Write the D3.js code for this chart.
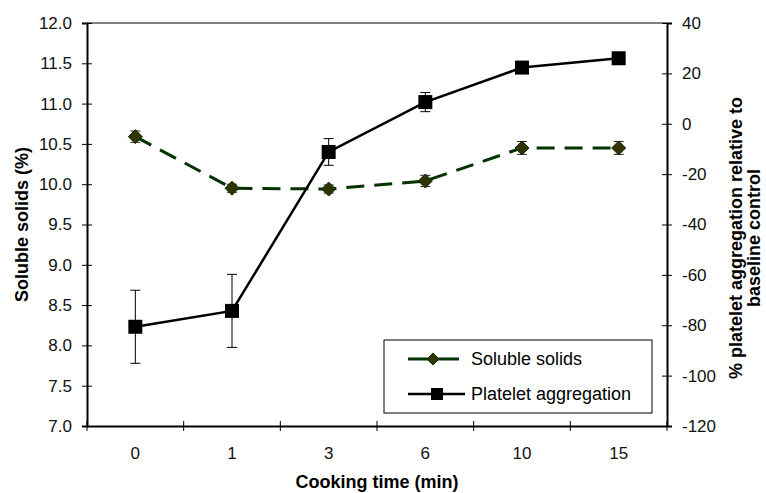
<!DOCTYPE html>
<html>
<head>
<meta charset="utf-8">
<script src="https://cdn.jsdelivr.net/npm/d3@7"></script>
<style>
  body { margin: 0; background: #fff; }
  svg { font-family: "Liberation Sans", Arial, sans-serif; }
</style>
</head>
<body>
<svg width="766" height="493"></svg>
<script>
// cooking time categories
const times = ["0", "1", "3", "6", "10", "15"];
// soluble solids (%), left axis
const solids = [10.59, 9.95, 9.94, 10.04, 10.45, 10.45];
const solidsErr = [0.07, 0.05, 0.05, 0.07, 0.08, 0.08];
// platelet aggregation (%), right axis
const platelet = [-80.6, -74.3, -11.2, 8.6, 22.3, 26.0];
const plateletErr = [14.5, 14.5, 5.3, 3.8, 0, 0];
const leftTicks = [7.0, 7.5, 8.0, 8.5, 9.0, 9.5, 10.0, 10.5, 11.0, 11.5, 12.0];
const rightTicks = [-120, -100, -80, -60, -40, -20, 0, 20, 40];

const svg = d3.select("svg");
const L = 87, R = 667, T = 23, B = 426;

const x = d3.scaleBand().domain(times).range([L, R]);
const yL = d3.scaleLinear().domain([7, 12]).range([B, T]);
const yR = d3.scaleLinear().domain([-120, 40]).range([B, T]);
const cx = d => x(d) + x.bandwidth() / 2;

// top border
svg.append("line").attr("x1", L).attr("x2", R).attr("y1", T).attr("y2", T)
  .attr("stroke", "#000").attr("stroke-width", 1);

function styleAxis(g) {
  g.select(".domain").attr("stroke-width", 2);
  g.selectAll(".tick line").attr("stroke-width", 1);
  g.selectAll(".tick text").attr("font-size", 17).attr("fill", "#111");
}

// left axis, ticks crossing the line
const gl = svg.append("g").attr("transform", `translate(${L},0)`)
  .call(d3.axisLeft(yL).tickValues(leftTicks).tickFormat(d3.format(".1f")).tickSizeOuter(0).tickSize(5).tickPadding(10));
gl.selectAll(".tick line").attr("x2", 5).attr("x1", -5);
styleAxis(gl);

const gr = svg.append("g").attr("transform", `translate(${R},0)`)
  .call(d3.axisRight(yR).tickValues(rightTicks).tickFormat(d => String(d)).tickSizeOuter(0).tickSize(5).tickPadding(10));
gr.selectAll(".tick line").attr("x1", -5).attr("x2", 5);
styleAxis(gr);

// x axis: ticks at band edges
const gx = svg.append("g").attr("transform", `translate(0,${B})`)
  .call(d3.axisBottom(x).tickSize(0).tickPadding(21).tickSizeOuter(0));
styleAxis(gx);
gx.selectAll(".tick line").remove();
const edges = times.map(t => x(t)).concat([R]);
gx.selectAll(".edge").data(edges).enter().append("line")
  .attr("x1", d => d).attr("x2", d => d).attr("y1", -5).attr("y2", 5)
  .attr("stroke", "#000");

// axis titles
svg.append("text").attr("x", (L + R) / 2).attr("y", 488).attr("text-anchor", "middle")
  .attr("font-size", 18).attr("font-weight", "bold").text("Cooking time (min)");
svg.append("text").attr("transform", `translate(28,${(T + B) / 2}) rotate(-90)`)
  .attr("text-anchor", "middle").attr("font-size", 18).attr("font-weight", "bold")
  .text("Soluble solids (%)");
const rt = svg.append("text").attr("transform", `translate(742,238) rotate(-90)`)
  .attr("text-anchor", "middle").attr("font-size", 18).attr("font-weight", "bold");
rt.append("tspan").attr("x", 0).attr("dy", 0).text("% platelet aggregation relative to");
rt.append("tspan").attr("x", 0).attr("dy", 18).text("baseline control");

// soluble solids series
const sData = times.map((t, i) => ({ t, v: solids[i], e: solidsErr[i] }));
svg.append("path").datum(sData)
  .attr("d", d3.line().x(d => cx(d.t)).y(d => yL(d.v)))
  .attr("fill", "none").attr("stroke", "#003300").attr("stroke-width", 3)
  .attr("stroke-dasharray", "18,10");
const sErr = svg.append("g").selectAll("g").data(sData).enter().append("g")
  .attr("stroke", "#222").attr("stroke-width", 1);
sErr.append("line").attr("x1", d => cx(d.t)).attr("x2", d => cx(d.t))
  .attr("y1", d => yL(d.v - d.e)).attr("y2", d => yL(d.v + d.e));
sErr.append("line").attr("x1", d => cx(d.t) - 5).attr("x2", d => cx(d.t) + 5)
  .attr("y1", d => yL(d.v + d.e)).attr("y2", d => yL(d.v + d.e));
sErr.append("line").attr("x1", d => cx(d.t) - 5).attr("x2", d => cx(d.t) + 5)
  .attr("y1", d => yL(d.v - d.e)).attr("y2", d => yL(d.v - d.e));
const diamond = "M0,-7L7,0L0,7L-7,0Z";
svg.append("g").selectAll("path").data(sData).enter().append("path")
  .attr("d", diamond).attr("transform", d => `translate(${cx(d.t)},${yL(d.v)})`)
  .attr("fill", "#333300").attr("stroke", "#003300").attr("stroke-width", 1);

// platelet series
const pData = times.map((t, i) => ({ t, v: platelet[i], e: plateletErr[i] }));
svg.append("path").datum(pData)
  .attr("d", d3.line().x(d => cx(d.t)).y(d => yR(d.v)))
  .attr("fill", "none").attr("stroke", "#000").attr("stroke-width", 2.5);
const pErr = svg.append("g").selectAll("g").data(pData.filter(d => d.e > 0)).enter().append("g")
  .attr("stroke", "#000").attr("stroke-width", 1);
pErr.append("line").attr("x1", d => cx(d.t)).attr("x2", d => cx(d.t))
  .attr("y1", d => yR(d.v - d.e)).attr("y2", d => yR(d.v + d.e));
pErr.append("line").attr("x1", d => cx(d.t) - 5).attr("x2", d => cx(d.t) + 5)
  .attr("y1", d => yR(d.v + d.e)).attr("y2", d => yR(d.v + d.e));
pErr.append("line").attr("x1", d => cx(d.t) - 5).attr("x2", d => cx(d.t) + 5)
  .attr("y1", d => yR(d.v - d.e)).attr("y2", d => yR(d.v - d.e));
svg.append("g").selectAll("rect").data(pData).enter().append("rect")
  .attr("x", d => cx(d.t) - 7).attr("y", d => yR(d.v) - 7)
  .attr("width", 14).attr("height", 14).attr("fill", "#000");

// legend
const lg = svg.append("g");
lg.append("rect").attr("x", 384).attr("y", 340).attr("width", 268).attr("height", 73)
  .attr("fill", "#fff").attr("stroke", "#000").attr("stroke-width", 1);
lg.append("line").attr("x1", 408).attr("x2", 459).attr("y1", 359).attr("y2", 359)
  .attr("stroke", "#003300").attr("stroke-width", 3);
lg.append("path").attr("d", "M0,-6L6,0L0,6L-6,0Z").attr("transform", "translate(433,359)")
  .attr("fill", "#333300").attr("stroke", "#003300");
lg.append("text").attr("x", 471).attr("y", 365).attr("font-size", 18).text("Soluble solids");
lg.append("line").attr("x1", 408).attr("x2", 465).attr("y1", 394).attr("y2", 394)
  .attr("stroke", "#000").attr("stroke-width", 2.5);
lg.append("rect").attr("x", 431).attr("y", 388).attr("width", 12).attr("height", 12).attr("fill", "#000");
lg.append("text").attr("x", 471).attr("y", 400).attr("font-size", 18).text("Platelet aggregation");
</script>
</body>
</html>
